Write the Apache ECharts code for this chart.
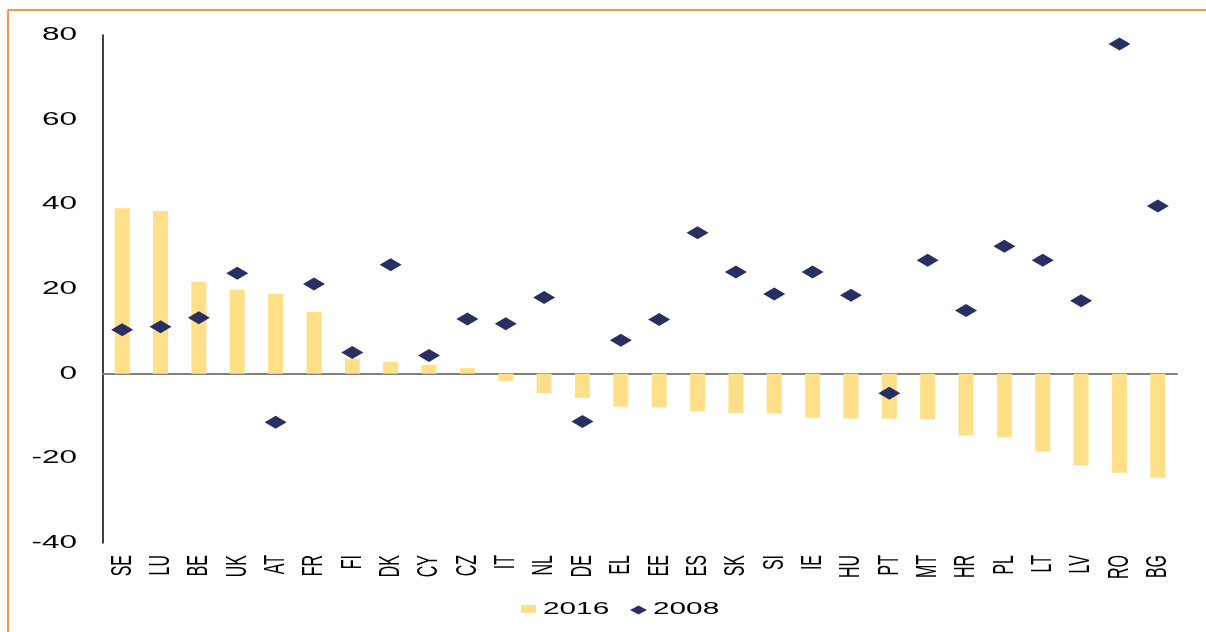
<!DOCTYPE html>
<html>
<head>
<meta charset="utf-8">
<script src="https://cdn.jsdelivr.net/npm/echarts@6/dist/echarts.min.js"></script>
<style>
html,body{margin:0;padding:0;background:#fff;}
#c{width:1206px;height:632px;}
</style>
</head>
<body>
<div id="c"></div>
<script>
const categories = ['SE','LU','BE','UK','AT','FR','FI','DK','CY','CZ','IT','NL','DE','EL','EE','ES','SK','SI','IE','HU','PT','MT','HR','PL','LT','LV','RO','BG'];
const values2016 = [39.1,38.4,21.7,19.8,18.8,14.6,3.6,2.8,2.1,1.3,-1.7,-4.6,-5.7,-7.8,-8.0,-8.9,-9.3,-9.4,-10.4,-10.6,-10.6,-10.8,-14.6,-15.0,-18.4,-21.7,-23.4,-24.6];
const values2008 = [10.4,11.1,13.2,23.7,-11.5,21.2,5.0,25.7,4.3,12.9,11.8,18.0,-11.3,7.9,12.8,33.3,24.0,18.8,24.0,18.5,-4.6,26.8,14.9,30.1,26.8,17.2,77.9,39.6];
const yTicks = [-40,-20,0,20,40,60,80];
const seriesNames = ['2016','2008'];

const BAR = '#FFDF87';
const NAVY = '#2A2F63';
const ORANGE = '#F7964A';
const FONT = '"Liberation Sans", Arial, sans-serif';

const chart = echarts.init(document.getElementById('c'), null, {renderer:'canvas'});
chart.setOption({
  animation:false,
  backgroundColor:'#fff',
  grid:{left:103,right:29,top:35,bottom:89,containLabel:false},
  xAxis:{
    type:'category', data:categories,
    axisLine:{show:true,onZero:true,lineStyle:{color:'#808080',width:2}},
    axisTick:{show:false}, axisLabel:{show:false}, splitLine:{show:false}
  },
  yAxis:{
    type:'value', min:-40, max:80, interval:20,
    axisLine:{show:true,lineStyle:{color:'#000',width:1.5}},
    axisTick:{show:false}, axisLabel:{show:false}, splitLine:{show:false}
  },
  series:[
    {name:seriesNames[0], type:'bar', data:values2016, barWidth:15,
     itemStyle:{color:BAR, opacity:1}, z:2},
    {name:seriesNames[1], type:'scatter', data:values2008, symbol:'diamond',
     symbolSize:[22,13], itemStyle:{color:NAVY, opacity:1}, z:3}
  ]
});

const g = [];
// frame lines (orange)
g.push({type:'line', shape:{x1:8,y1:10,x2:1206,y2:10}, style:{stroke:ORANGE,lineWidth:2}, z:10});
g.push({type:'line', shape:{x1:8,y1:10,x2:8,y2:632}, style:{stroke:ORANGE,lineWidth:2}, z:10});

// y tick labels
yTicks.forEach(v => {
  const y = chart.convertToPixel({yAxisIndex:0}, v);
  g.push({type:'text', x:77, y:y, scaleX:1.75,
    style:{text:String(v), align:'right', verticalAlign:'middle', font:'18px ' + FONT, fill:'#000'}});
});
// x category labels (rotated)
categories.forEach(c => {
  const x = chart.convertToPixel({xAxisIndex:0}, c);
  g.push({type:'text', x:x, y:555, rotation:Math.PI/2, scaleY:1.9,
    style:{text:c, align:'right', verticalAlign:'middle', font:'16px ' + FONT, fill:'#000'}});
});
// legend
g.push({type:'rect', shape:{x:521,y:605,width:15,height:8}, style:{fill:BAR}});
g.push({type:'polygon', shape:{points:[[630,610],[638.5,605.5],[647,610],[638.5,614.5]]}, style:{fill:NAVY}});
g.push({type:'text', x:543, y:609.5, scaleX:1.75,
  style:{text:seriesNames[0], align:'left', verticalAlign:'middle', font:'17px ' + FONT, fill:'#000'}});
g.push({type:'text', x:653, y:609.5, scaleX:1.75,
  style:{text:seriesNames[1], align:'left', verticalAlign:'middle', font:'17px ' + FONT, fill:'#000'}});

chart.setOption({graphic:{elements:g}});
</script>
</body>
</html>
